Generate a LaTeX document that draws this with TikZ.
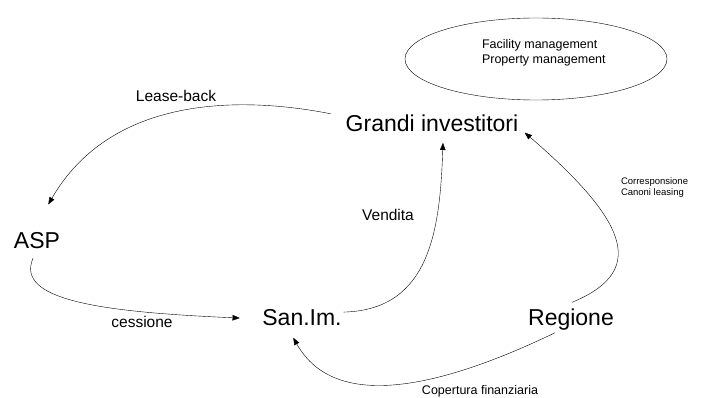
\documentclass[tikz,border=0pt]{standalone}
\usepackage{fontspec}
\setmainfont{Liberation Sans}
\usetikzlibrary{arrows.meta,shapes.geometric}

\begin{document}
\begin{tikzpicture}[x=1pt,y=-1pt]
\tikzset{ >={Triangle[length=8pt,width=6pt]}, inner sep=0pt, outer sep=0pt, line width=0.8pt }
\tikzset{ actor/.style={anchor=base, font=\fontsize{23}{27}\selectfont},
          flow/.style={anchor=base, font=\fontsize{15.5}{18}\selectfont},
          note/.style={anchor=north west, align=left, font=\fontsize{12.5}{15.5}\selectfont},
          tiny/.style={anchor=north west, align=left, font=\fontsize{9.5}{10.5}\selectfont} }

\useasboundingbox (0,0) rectangle (701,398);

\node [actor] (GI)  at (432,132) {Grandi investitori};
\node [actor] (ASP) at (37,248)  {ASP};
\node [actor] (SAN) at (302,325) {San.Im.};
\node [actor] (REG) at (571,325) {Regione};

\node [draw, ellipse, minimum width=262pt, minimum height=82pt] (MG) at (536,59) {};
\node [note] (MGtext) at (482,39) {Facility management\\Property management};

\draw [->] ([shift={(-15,-10)}]GI.west) .. controls (235,95) and (110,98) .. ([shift={(11,-27)}]ASP.north);
\draw [->] ([shift={(-4,10)}]ASP.south) .. controls (15,300) and (100,312) .. ([shift={(-22,1)}]SAN.west);
\draw [->] ([shift={(2,-5)}]SAN.east) .. controls (430,310) and (440,230) .. ([shift={(11,10)}]GI.south);
\draw [->] ([shift={(1,-6)}]REG.north) .. controls (645,272) and (632,225) .. ([shift={(6,0)}]GI.south east);
\draw [->] ([shift={(-16,3)}]REG.south) .. controls (440,388) and (335,412) .. ([shift={(-9,12)}]SAN.south);

\node [flow] (lb)  at (176,102) {Lease-back};
\node [flow] (ces) at (142,327) {cessione};
\node [flow] (ven) at (388,220) {Vendita};
\node [anchor=base, font=\fontsize{12.5}{15}\selectfont] (cop) at (480,394) {Copertura finanziaria};
\node [tiny] (can) at (621,178) {Corresponsione\\Canoni leasing};

\end{tikzpicture}
\end{document}
